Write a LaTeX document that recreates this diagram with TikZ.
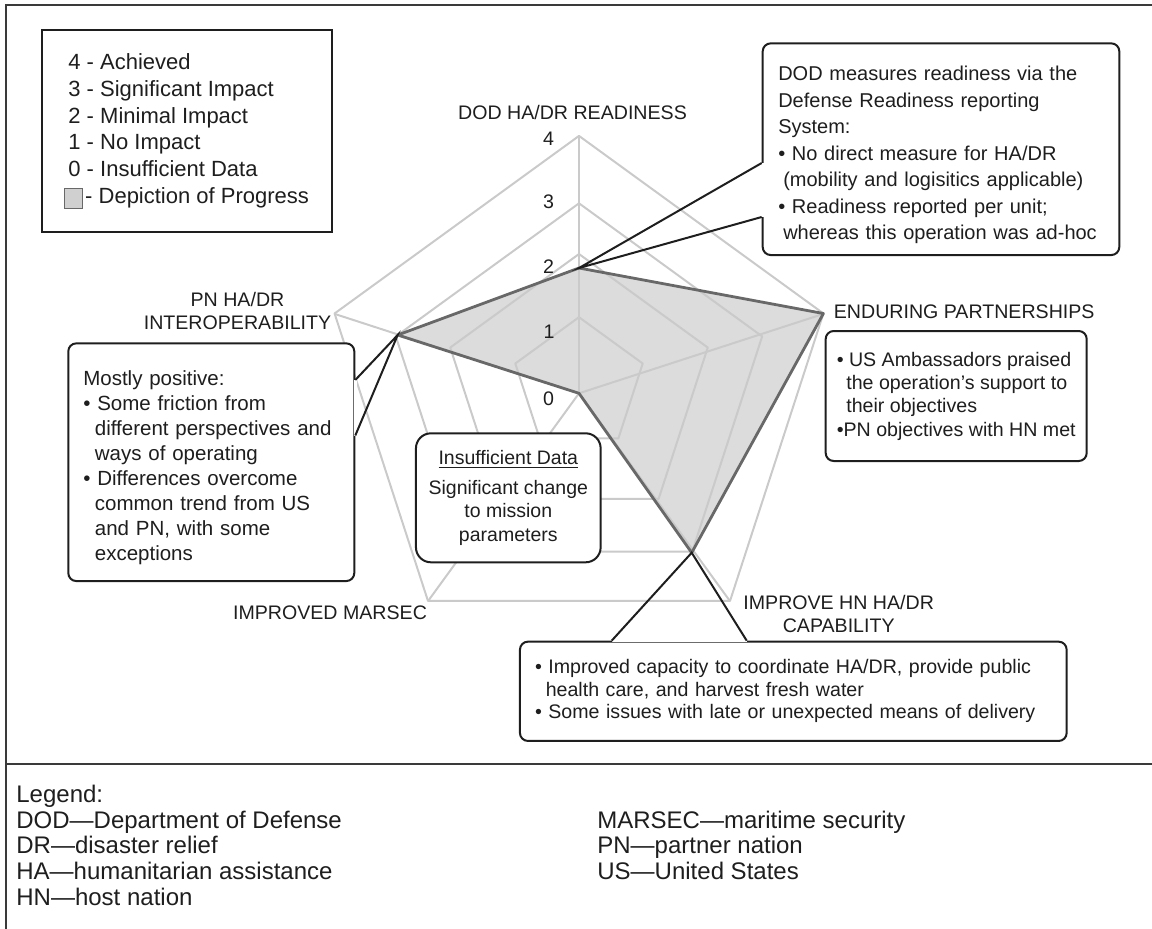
\documentclass[tikz,border=0pt]{standalone}
\usepackage{fontspec}
\setmainfont{Liberation Sans}
\setlength\parindent{0pt}
\definecolor{inkcol}{HTML}{1E1E1E}
\definecolor{gridcol}{HTML}{CACACA}
\definecolor{areafill}{HTML}{DCDCDC}
\definecolor{arealine}{HTML}{686868}
\definecolor{framecol}{HTML}{3A3A3A}
\definecolor{swatchfill}{HTML}{D0D0D0}
\begin{document}
\begin{tikzpicture}[x=0.5pt,y=-0.5pt,
  every node/.style={text=inkcol},
  framerule/.style={draw=framecol, line width=1.2pt},
  gridline/.style={draw=gridcol, line width=1pt, line join=round},
  arealine/.style={draw=arealine, line width=1.4pt, line join=round},
  keybox/.style={draw=inkcol, line width=1.1pt, fill=white, inner sep=0pt, align=left},
  callout/.style={draw=inkcol, line width=1pt, fill=white, inner sep=0pt, align=left, rounded corners=4pt},
  pointer/.style={draw=inkcol, line width=1pt, line join=miter},
  notchgap/.style={draw=white, line width=1.8pt},
  axislabel/.style={font=\fontsize{9.8pt}{11.7pt}\selectfont, align=center, inner sep=0pt},
  levelnum/.style={font=\fontsize{9.8pt}{11.7pt}\selectfont, inner sep=0pt},
  abbr/.style={font=\fontsize{12pt}{12.85pt}\selectfont, align=left, inner sep=0pt},
  swatch/.style={draw=arealine, line width=0.5pt, fill=swatchfill, inner sep=0pt}
]
\useasboundingbox (0,0) rectangle (1152,928);

% outer frame and the rule above the abbreviation list
\draw[framerule] (6,940) -- (6,5) -- (1160,5);
\draw[framerule] (6,764) -- (1160,764);

% data vertices of the radar chart
\coordinate (dod) at (579,268);
\coordinate (ep)  at (823.4,313.5);
\coordinate (hn)  at (691.7,552.7);
\coordinate (ms)  at (579,393.3);
\coordinate (pn)  at (397.7,335);

% shaded progress area
\fill[areafill] (dod) -- (ep) -- (hn) -- (ms) -- (pn) -- cycle;

% pentagon grid rings and spokes
\foreach \cy/\R in {384.2/67, 389.4/135.4, 395.9/192.6, 392.9/257}
  \draw[gridline, shift={(579,\cy)}] (-90:\R) -- (-18:\R) -- (54:\R) -- (126:\R) -- (-162:\R) -- cycle;
\foreach \a in {-90,-18,54,126,-162}
  \draw[gridline] (ms) -- ++(\a:257);

% outline of the progress area
\draw[arealine] (dod) -- (ep) -- (hn) -- (ms) -- (pn) -- cycle;

% scale numbers
\node[levelnum] (lv4) at (548.5,138.3) {4};
\node[levelnum] (lv3) at (548.5,201.7) {3};
\node[levelnum] (lv2) at (548.5,266.7) {2};
\node[levelnum] (lv1) at (549,331.7) {1};
\node[levelnum] (lv0) at (548.5,398.3) {0};

% axis titles
\node[axislabel] (dodlab) at (572.5,112.3) {DOD HA/DR READINESS};
\node[axislabel] (eplab) at (964.2,311.7) {ENDURING PARTNERSHIPS};
\node[axislabel] (hnlab) at (838.7,614) {IMPROVE HN HA/DR\\CAPABILITY};
\node[axislabel] (mslab) at (330,612.7) {IMPROVED MARSEC};
\node[axislabel] (pnlab) at (237.5,311) {PN HA/DR\\INTEROPERABILITY};

% scoring key
\node[keybox, minimum width=145pt, minimum height=100.85pt,
      font=\fontsize{11pt}{13.4pt}\selectfont] (key) at (186.7,130.8)
  {\hspace*{2pt}4 - Achieved\\
   \hspace*{2pt}3 - Significant Impact\\
   \hspace*{2pt}2 - Minimal Impact\\
   \hspace*{2pt}1 - No Impact\\
   \hspace*{2pt}0 - Insufficient Data\\
   \hspace*{10.4pt}- Depiction of Progress};
\node[swatch, minimum width=9.2pt, minimum height=10pt] (sw) at (73.5,198.3) {};

% callout: readiness
\node[callout, minimum width=178.3pt, minimum height=105.85pt, text width=162.7pt,
      font=\fontsize{10pt}{13.25pt}\selectfont] (dodnote) at (941,149.2)
  {\rule{0pt}{13.3pt}DOD measures readiness via the\\
   Defense Readiness reporting\\
   System:\\
   \textbullet\ No direct measure for HA/DR\\
   \hspace*{2.5pt}(mobility and logisitics applicable)\\
   \textbullet\ Readiness reported per unit;\\
   \hspace*{2.5pt}whereas this operation was ad-hoc};
\coordinate (dodnotchA) at (0,163);
\coordinate (dodnotchB) at (0,217);
\draw[notchgap] (dodnote.west |- dodnotchA) -- (dodnote.west |- dodnotchB);
\draw[pointer] (dodnote.west |- dodnotchA) -- (dod) -- (dodnote.west |- dodnotchB);

% callout: interoperability
\node[callout, minimum width=143pt, minimum height=118.85pt, text width=128pt,
      font=\fontsize{10.25pt}{12.5pt}\selectfont] (pnnote) at (211.3,462.2)
  {\rule{0pt}{12.5pt}Mostly positive:\\
   \textbullet\ Some friction from\\
   \hspace*{5.8pt}different perspectives and\\
   \hspace*{5.8pt}ways of operating\\
   \textbullet\ Differences overcome\\
   \hspace*{5.8pt}common trend from US\\
   \hspace*{5.8pt}and PN, with some\\
   \hspace*{5.8pt}exceptions};
\coordinate (pnnotchA) at (0,380);
\coordinate (pnnotchB) at (0,435.5);
\draw[notchgap] (pnnote.east |- pnnotchA) -- (pnnote.east |- pnnotchB);
\draw[pointer] (pnnote.east |- pnnotchA) -- (pn) -- (pnnote.east |- pnnotchB);

% callout: partnerships
\node[callout, minimum width=130.5pt, minimum height=65pt,
      font=\fontsize{9.8pt}{11.65pt}\selectfont] (epnote) at (956.2,396)
  {\textbullet\ US Ambassadors praised\\
   \hspace*{4.8pt}the operation’s support to\\
   \hspace*{4.8pt}their objectives\\
   \textbullet PN objectives with HN met};

% callout: insufficient data
\node[callout, rounded corners=7.5pt, align=center, minimum width=92.35pt, minimum height=64.5pt,
      font=\fontsize{9.75pt}{11.75pt}\selectfont] (msnote) at (508.3,497.8)
  {\underline{Insufficient Data}\\[3.2pt]
   Significant change\\
   to mission\\
   parameters};

% callout: host nation capability
\node[callout, minimum width=273.35pt, minimum height=49.65pt, text width=258.3pt,
      font=\fontsize{9.8pt}{11.25pt}\selectfont] (hnnote) at (793.3,691.3)
  {\textbullet\ Improved capacity to coordinate HA/DR, provide public\\
   \hspace*{5.4pt}health care, and harvest fresh water\\
   \textbullet\ Some issues with late or unexpected means of delivery};
\coordinate (hnnotchA) at (611.7,0);
\coordinate (hnnotchB) at (746.7,0);
\draw[notchgap] (hnnote.north -| hnnotchA) -- (hnnote.north -| hnnotchB);
\draw[pointer] (hnnote.north -| hnnotchA) -- (hn) -- (hnnote.north -| hnnotchB);

% abbreviation list
\node[abbr, anchor=north west] (abbrA) at (16,784.5)
  {Legend:\\
   DOD—Department of Defense\\
   DR—disaster relief\\
   HA—humanitarian assistance\\
   HN—host nation};
\node[abbr, anchor=north west] (abbrB) at (597,810.2)
  {MARSEC—maritime security\\
   PN—partner nation\\
   US—United States};
\end{tikzpicture}
\end{document}
